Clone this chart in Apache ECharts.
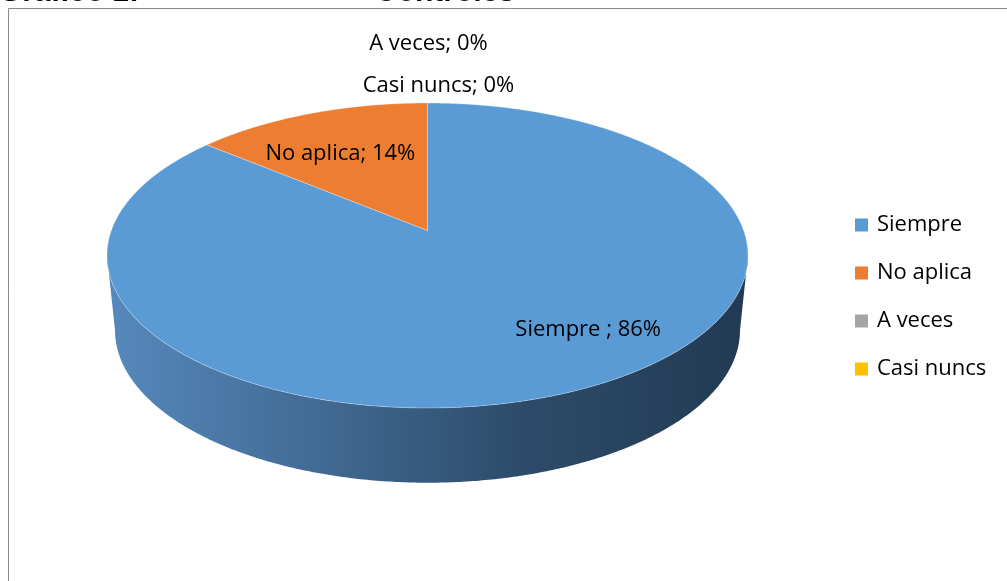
<!DOCTYPE html>
<html>
<head>
<meta charset="utf-8">
<script src="https://cdn.jsdelivr.net/npm/echarts@6/dist/echarts.min.js"></script>
<style>
html,body{margin:0;padding:0;background:#fff;}
#c{width:1007px;height:581px;}
</style>
</head>
<body>
<div id="c"></div>
<script>
const categories = ['Siempre ', 'No aplica', 'A veces', 'Casi nuncs'];
const values = [86, 14, 0, 0];
const colors = ['#5B9BD5', '#ED7D31', '#A5A5A5', '#FFC000'];
const titleLeft = 'Gráfico 1:';
const titleRight = 'Controles';

const FONT = '"Open Sans", sans-serif';
const FS = 22;
const E = -0.164;        // perspective strength (centre shift)
const DEPTH = 0.49;      // thickness of the pie (axis units)
const BSX = 0.975;       // bottom rim narrowing (perspective)
const total = values.reduce((a, b) => a + b, 0);
const cum = [];
values.reduce((acc, v, i) => { cum[i] = acc; return acc + v; }, 0);

const V0 = -E / (1 - E * E);
const SX = Math.sqrt(1 - E * E);
const SY = 1 - E * E;
function proj(theta, r) {
  const X = r * Math.sin(theta), Y = -r * Math.cos(theta);
  const w = 1 + E * Y;
  const u = X / w, v = Y / w;
  return [u * SX, (v - V0) * SY];
}
const YEXT = V0 / (1 - E * V0);
const TH_R = Math.acos(-YEXT);
const TH_L = 2 * Math.PI - TH_R;

const insideNudge = [[72, 11], [-13, -3], [0, 0], [0, 0]];

function makeRender(idx) {
  return function (params, api) {
    const v = api.value(2);
    const a0 = cum[idx] / total * Math.PI * 2;
    const a1 = a0 + v / total * Math.PI * 2;
    const rim = (phi) => api.coord(proj(phi, 1));
    const bot = (phi) => { const p = proj(phi, 1); return api.coord([p[0] * BSX, p[1] + DEPTH]); };
    const children = [];
    const step = Math.PI / 360;
    const s0 = Math.max(a0, TH_R), s1 = Math.min(a1, TH_L);
    if (v > 0 && s1 > s0) {
      const pts = [], bpts = [];
      for (let p = s0; p < s1; p += step) { pts.push(rim(p)); bpts.push(bot(p)); }
      pts.push(rim(s1)); bpts.push(bot(s1));
      const L = api.coord([-1, 0])[0], R = api.coord([1, 0])[0];
      children.push({
        type: 'polygon',
        shape: { points: pts.concat(bpts.reverse()) },
        style: {
          fill: new echarts.graphic.LinearGradient(L, 0, R, 0, [
            { offset: 0, color: '#5689bc' },
            { offset: 0.3, color: '#436d98' },
            { offset: 0.65, color: '#2d4b69' },
            { offset: 1, color: '#223a53' }
          ], true)
        },
        z2: 1
      });
    }
    if (v > 0) {
      const pts = [api.coord(proj(0, 0))];
      for (let p = a0; p < a1; p += step) pts.push(rim(p));
      pts.push(rim(a1));
      children.push({
        type: 'polygon',
        shape: { points: pts },
        style: { fill: colors[idx], stroke: 'rgba(255,255,255,0.5)', lineWidth: 0.6 },
        z2: 2
      });
    }
    const mid = (a0 + a1) / 2;
    const pct = Math.round(v / total * 100);
    const text = categories[idx] + '; ' + pct + '%';
    let lx, ly;
    if (v > 0) {
      const p = api.coord(proj(mid, 0.6));
      lx = p[0] + insideNudge[idx][0];
      ly = p[1] + insideNudge[idx][1];
    } else {
      const p = rim(mid);
      const k = (values.length - 1) - idx;
      lx = p[0] + (k === 0 ? 11 : 1);
      ly = p[1] - 17 - k * 42;
    }
    children.push({
      type: 'text',
      style: {
        x: lx, y: ly, text: text, fill: '#000',
        font: FS + 'px ' + FONT, align: 'center', verticalAlign: 'middle'
      },
      z2: 5
    });
    return { type: 'group', children: children };
  };
}

const series = categories.map((name, i) => ({
  type: 'custom',
  name: name,
  coordinateSystem: 'cartesian2d',
  clip: false,
  silent: true,
  itemStyle: { color: colors[i] },
  data: [[0, 0, values[i]]],
  renderItem: makeRender(i),
  z: i
}));

const chart = echarts.init(document.getElementById('c'), null, { renderer: 'canvas' });
chart.setOption({
  animation: false,
  color: colors,
  grid: { left: 107, top: 103, width: 641, height: 305 },
  xAxis: { type: 'value', min: -1, max: 1, show: false },
  yAxis: { type: 'value', min: -1, max: 1, inverse: true, show: false },
  legend: {
    orient: 'vertical',
    left: 855,
    top: 214,
    padding: 0,
    itemWidth: 13,
    itemHeight: 13,
    itemGap: 26,
    icon: 'rect',
    data: categories,
    formatter: (n) => n.trim(),
    textStyle: { fontFamily: FONT, fontSize: FS, color: '#000', lineHeight: 22, padding: [0, 0, 0, 4] }
  },
  graphic: [
    { type: 'rect', silent: true, z: -1,
      shape: { x: 8.5, y: 8.5, width: 1100, height: 700 },
      style: { fill: 'none', stroke: '#8a8a8a', lineWidth: 1 } },
    { type: 'text', silent: true,
      style: { x: -1, y: 8, text: titleLeft, font: 'bold 30px "Liberation Sans", Arial, sans-serif', fill: '#000', verticalAlign: 'bottom' } },
    { type: 'text', silent: true,
      style: { x: 375, y: 8, text: titleRight, font: 'bold 30px "Liberation Sans", Arial, sans-serif', fill: '#000', verticalAlign: 'bottom' } }
  ],
  series: series
});
</script>
</body>
</html>
